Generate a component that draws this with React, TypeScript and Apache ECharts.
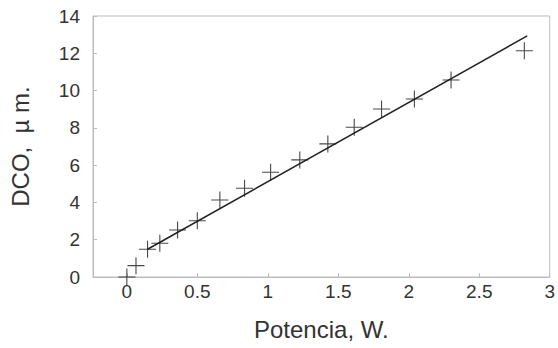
import React, { useEffect, useRef } from "react";
import * as echarts from "echarts";

const potencia = [0, 0.065, 0.147, 0.234, 0.36, 0.5, 0.66, 0.835, 1.02, 1.227, 1.426, 1.613, 1.807, 2.04, 2.3, 2.82];
const dco = [0, 0.61, 1.49, 1.81, 2.52, 3.02, 4.13, 4.76, 5.62, 6.28, 7.14, 8.03, 9.01, 9.55, 10.57, 12.14];
const fitX = [0.147, 2.84];
const fitY = [1.49, 12.93];
const xTicks = [0, 0.5, 1, 1.5, 2, 2.5, 3];

export default function App() {
  const ref = useRef<HTMLDivElement>(null);
  useEffect(() => {
    if (!ref.current) return;
    const chart = echarts.init(ref.current, null, { renderer: "svg" });
    const axisColor = "#bdbdbd";
    const textColor = "#333";
    const font = "Liberation Sans, Arial";
    chart.setOption({
      animation: false,
      backgroundColor: "#fff",
      grid: {
        left: 90.7,
        right: 5,
        top: 16,
        bottom: 71,
        show: true,
        borderColor: axisColor,
        borderWidth: 1,
      },
      xAxis: {
        type: "value",
        min: -0.24,
        max: 3,
        name: "Potencia, W.",
        nameLocation: "middle",
        nameGap: 40,
        nameTextStyle: { fontFamily: font, fontSize: 24, color: textColor },
        axisLine: { show: true, onZero: false, lineStyle: { color: axisColor } },
        axisTick: { show: true, inside: true, length: 4, customValues: xTicks, lineStyle: { color: axisColor } },
        axisLabel: {
          customValues: xTicks,
          margin: 5,
          fontFamily: font,
          fontSize: 19,
          color: textColor,
        },
        splitLine: { show: false },
      },
      yAxis: {
        type: "value",
        min: 0,
        max: 14,
        interval: 2,
        name: "DCO,  µ m.",
        nameLocation: "middle",
        nameGap: 61,
        nameTextStyle: { fontFamily: font, fontSize: 24, color: textColor },
        axisLine: { show: true, onZero: false, lineStyle: { color: axisColor } },
        axisTick: { show: true, inside: true, length: 4, lineStyle: { color: axisColor } },
        axisLabel: {
          margin: 13,
          fontFamily: font,
          fontSize: 19,
          color: textColor,
        },
        splitLine: { show: false },
      },
      series: [
        {
          type: "line",
          data: fitX.map((x, i) => [x, fitY[i]]),
          showSymbol: false,
          symbol: "none",
          lineStyle: { color: "#222", width: 1.5 },
          z: 2,
        },
        {
          type: "scatter",
          data: potencia.map((x, i) => [x, dco[i]]),
          symbol: "path://M0,-1L0,1M-1,0L1,0",
          symbolSize: 17,
          itemStyle: { color: "none", borderColor: "#1a1a1a", borderWidth: 1.1 },
          z: 3,
        },
      ],
    });
    return () => chart.dispose();
  }, []);
  return <div ref={ref} style={{ width: 558, height: 348, position: "absolute", left: 0, top: 0 }} />;
}
